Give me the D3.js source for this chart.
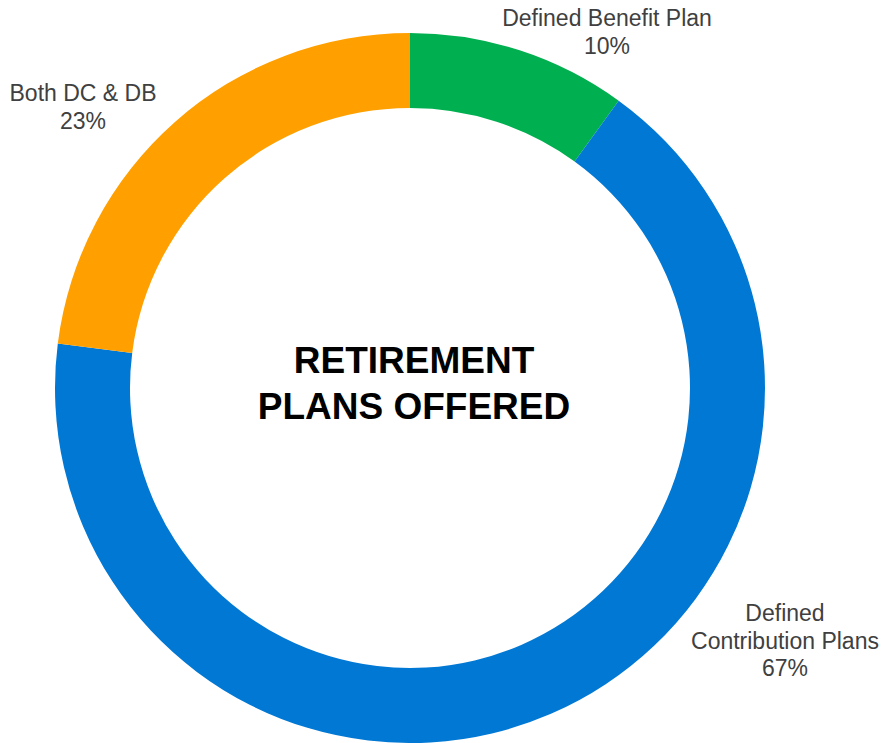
<!DOCTYPE html>
<html>
<head>
<meta charset="utf-8">
<script src="https://cdn.jsdelivr.net/npm/d3@7"></script>
<style>
  html, body { margin: 0; padding: 0; background: #ffffff; }
  svg { display: block; }
</style>
</head>
<body>
<svg id="chart" width="882" height="743"></svg>
<script>
// Retirement plan types and their share of respondents (%)
const categories = ["Defined Benefit Plan", "Defined Contribution Plans", "Both DC & DB"];
const shares = [10, 67, 23];
const colors = ["#00B050", "#0078D4", "#FFA000"];

// Label lines for each slice (category name may wrap)
const labelLines = [
  ["Defined Benefit Plan"],
  ["Defined", "Contribution Plans"],
  ["Both DC & DB"]
];

const svg = d3.select("#chart");
const cx = 410, cy = 388;
const outerR = 355, innerR = 280;

const data = categories.map((c, i) => ({ name: c, value: shares[i], color: colors[i], lines: labelLines[i] }));

const pie = d3.pie().sort(null).value(d => d.value).startAngle(0).endAngle(2 * Math.PI);
const arc = d3.arc().innerRadius(innerR).outerRadius(outerR);

const g = svg.append("g").attr("transform", `translate(${cx},${cy})`);

g.selectAll("path.slice")
  .data(pie(data))
  .join("path")
  .attr("class", "slice")
  .attr("d", arc)
  .attr("fill", d => d.data.color);

// Outside label anchors (baseline of the first line of each label block)
const labelAnchors = [
  { x: 607, y: 26 },
  { x: 785, y: 621 },
  { x: 83, y: 101 }
];
const lineH = 27.5;

const labels = svg.append("g")
  .attr("font-family", "Arial, 'Liberation Sans', Helvetica, sans-serif")
  .attr("font-size", 23)
  .attr("fill", "#404040")
  .attr("text-anchor", "middle");

data.forEach((d, i) => {
  const a = labelAnchors[i];
  const t = labels.append("text").attr("x", a.x).attr("y", a.y);
  const lines = d.lines.concat([`${d.value}%`]);
  lines.forEach((ln, j) => {
    t.append("tspan").attr("x", a.x).attr("y", a.y + j * lineH).text(ln);
  });
});

// Centre title
const title = svg.append("text")
  .attr("font-family", "Arial, 'Liberation Sans', Helvetica, sans-serif")
  .attr("font-size", 37)
  .attr("font-weight", "bold")
  .attr("fill", "#000000")
  .attr("text-anchor", "middle");
title.append("tspan").attr("x", 414).attr("y", 373).text("RETIREMENT");
title.append("tspan").attr("x", 414).attr("y", 419).text("PLANS OFFERED");
</script>
</body>
</html>
